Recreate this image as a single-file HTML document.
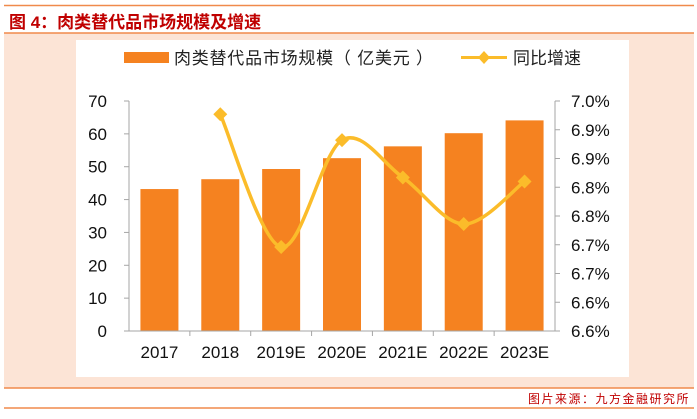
<!DOCTYPE html>
<html><head><meta charset="utf-8"><style>
body{margin:0;width:697px;height:414px;background:#fff;overflow:hidden;font-family:"Liberation Sans","Noto Sans CJK SC",sans-serif}
</style></head><body>
<svg width="697" height="414" xmlns="http://www.w3.org/2000/svg">
<line x1="4" y1="5.5" x2="694" y2="5.5" stroke="#f08a4b" stroke-width="1.5"/>
<text x="9" y="28" font-size="17" font-weight="bold" fill="#c00000" font-family="Liberation Sans, Noto Sans CJK SC, sans-serif">图 4：肉类替代品市场规模及增速</text>
<rect x="4" y="33" width="690" height="355" fill="#fce4d6"/>
<line x1="4" y1="33" x2="694" y2="33" stroke="#f08a4b" stroke-width="1.5"/>
<line x1="4" y1="388" x2="694" y2="388" stroke="#f08a4b" stroke-width="1.5"/>
<rect x="76" y="40" width="553" height="337" fill="#fff"/>
<text x="690" y="403" font-size="12" fill="#c00000" text-anchor="end" letter-spacing="1.5">图片来源：九方金融研究所</text>
<line x1="4" y1="408" x2="694" y2="408" stroke="#f08a4b" stroke-width="1.5"/>
<g>
<rect x="124" y="52" width="45" height="11" fill="#f58220"/>
<text x="174" y="64" font-size="17" fill="#222" textLength="259" lengthAdjust="spacing">肉类替代品市场规模（ 亿美元 ）</text>
<line x1="461" y1="57.5" x2="507" y2="57.5" stroke="#fbbc2a" stroke-width="3"/>
<path d="M484 51 L490 57.5 L484 64 L478 57.5Z" fill="#fbbc2a"/>
<text x="513" y="64" font-size="17" fill="#222">同比增速</text>
</g>
<g id="plot"></g>
</svg>
<script>
const categories=["2017","2018","2019E","2020E","2021E","2022E","2023E"];
const marketSize=[43.2,46.2,49.3,52.6,56.2,60.2,64.1];
const growth=[null,6.977,6.746,6.932,6.867,6.786,6.860];
const leftTicks=[0,10,20,30,40,50,60,70];
const rightTicks=[6.60,6.65,6.70,6.75,6.80,6.85,6.90,6.95,7.00];
const rightTickLabels=["6.6%","6.6%","6.7%","6.7%","6.8%","6.8%","6.9%","6.9%","7.0%"];
const NS="http://www.w3.org/2000/svg";
const X0=129,X1=555,Y0=331,Y1=101;
const band=(X1-X0)/categories.length;
const xc=i=>X0+band*(i+0.5);
const yL=v=>Y0-(v-0)/70*(Y0-Y1);
const yR=v=>Y0-(v-6.6)/0.4*(Y0-Y1);
const g=document.getElementById('plot');
function mk(t,a){const e=document.createElementNS(NS,t);for(const k in a)e.setAttribute(k,a[k]);g.appendChild(e);return e;}
marketSize.forEach((v,i)=>{const r=mk('rect',{x:xc(i)-19,y:yL(v),width:38,height:Y0-yL(v),fill:'#f58220'});

});
const ax=mk('path',{d:`M${X0} ${Y1}V${Y0}H${X1}V${Y1}`,fill:'none',stroke:'#a6a6a6','stroke-width':1});


leftTicks.forEach(v=>{const y=yL(v);
const t=mk('line',{x1:X0-5,x2:X0,y1:y,y2:y,stroke:'#a6a6a6'});


const l=mk('text',{x:X0-22,y:y+6,'font-size':17,'text-anchor':'end',fill:'#111'});l.textContent=v;

});
rightTicks.forEach((v,i)=>{const y=yR(v);
const t=mk('line',{x1:X1,x2:X1+5,y1:y,y2:y,stroke:'#a6a6a6'});


const l=mk('text',{x:571,y:y+6,'font-size':17,fill:'#111'});l.textContent=rightTickLabels[i];

});
for(let i=1;i<categories.length;i++){const x=X0+band*i;
const t=mk('line',{x1:x,x2:x,y1:Y0,y2:Y0+5,stroke:'#a6a6a6'});

}
categories.forEach((c,i)=>{const l=mk('text',{x:xc(i),y:358,'font-size':17,'text-anchor':'middle',fill:'#111'});l.textContent=c;

});
const pts=[];growth.forEach((v,i)=>{if(v!=null)pts.push([xc(i),yR(v)]);});
let d=`M${pts[0][0]} ${pts[0][1]}`;
for(let i=0;i<pts.length-1;i++){const p0=pts[i-1]||pts[i],p1=pts[i],p2=pts[i+1],p3=pts[i+2]||p2;
d+=` C${p1[0]+(p2[0]-p0[0])/6} ${p1[1]+(p2[1]-p0[1])/6} ${p2[0]-(p3[0]-p1[0])/6} ${p2[1]-(p3[1]-p1[1])/6} ${p2[0]} ${p2[1]}`;}
const ln=mk('path',{d,fill:'none',stroke:'#fbbc2a','stroke-width':3.5});


growth.forEach((v,i)=>{if(v==null)return;const x=xc(i),y=yR(v);
const m=mk('path',{d:`M${x} ${y-7}L${x+7} ${y}L${x} ${y+7}L${x-7} ${y}Z`,fill:'#fbbc2a'});

});
</script>
</body></html>
